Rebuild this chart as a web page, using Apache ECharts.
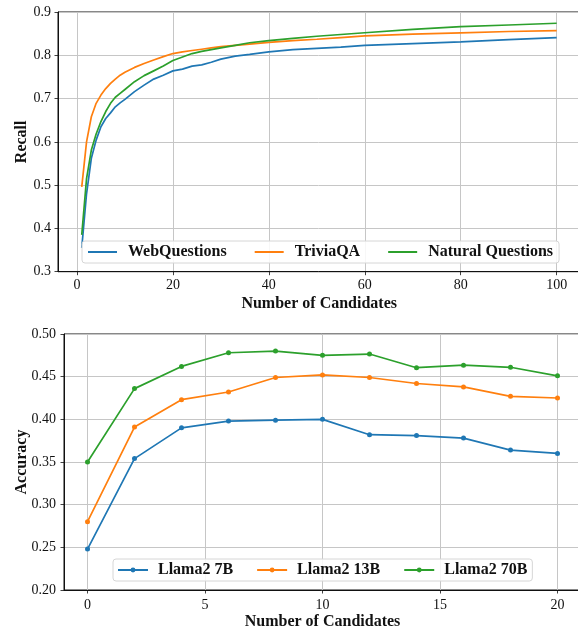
<!DOCTYPE html>
<html>
<head>
<meta charset="utf-8">
<script src="https://cdn.jsdelivr.net/npm/echarts@6/dist/echarts.min.js"></script>
<style>
html,body{margin:0;padding:0;background:#fff;}
#c{width:578px;height:628px;}
</style>
</head>
<body>
<div id="c"></div>
<script>
// ---- Top panel: recall vs number of candidates ----
const recallCandidates = [1,2,3,4,5,6,7,8,9,10,12,14,16,18,20,22,24,26,28,30,33,36,40,45,50,55,60,70,80,90,100];
const webQuestions = [0.355,0.480,0.562,0.604,0.635,0.654,0.667,0.681,0.690,0.698,0.716,0.731,0.745,0.754,0.764,0.768,0.775,0.778,0.784,0.791,0.798,0.802,0.808,0.813,0.816,0.819,0.823,0.827,0.831,0.836,0.841];
const triviaQA = [0.496,0.600,0.658,0.689,0.708,0.723,0.735,0.745,0.754,0.761,0.772,0.781,0.789,0.797,0.804,0.808,0.811,0.814,0.817,0.820,0.823,0.826,0.830,0.834,0.837,0.841,0.845,0.849,0.852,0.855,0.857];
const naturalQuestions = [0.385,0.515,0.581,0.618,0.647,0.670,0.689,0.703,0.712,0.721,0.739,0.753,0.764,0.775,0.788,0.796,0.804,0.809,0.813,0.817,0.823,0.829,0.834,0.839,0.844,0.848,0.852,0.860,0.866,0.870,0.874];
const recallXTicks = [0,20,40,60,80,100];

// ---- Bottom panel: accuracy vs number of candidates ----
const accCandidates = [0,2,4,6,8,10,12,14,16,18,20];
const llama7B  = [0.248,0.354,0.390,0.398,0.399,0.400,0.382,0.381,0.378,0.364,0.360];
const llama13B = [0.280,0.391,0.423,0.432,0.449,0.452,0.449,0.442,0.438,0.427,0.425];
const llama70B = [0.350,0.436,0.462,0.478,0.480,0.475,0.4765,0.4605,0.4635,0.461,0.451];
const accXTicks = [0,5,10,15,20];

const FONT = '"Liberation Serif", "DejaVu Serif", serif';
const C1 = '#1f77b4', C2 = '#ff7f0e', C3 = '#2ca02c';
const zip = (xs, ys) => xs.map((x, i) => [x, ys[i]]);

const gridLine = {show: true, lineStyle: {color: '#c6c6c6', width: 1}};
const axisLine = {show: true, onZero: false, lineStyle: {color: '#111', width: 1}};
const tick = {show: true, inside: false, length: 3.5, lineStyle: {color: '#111', width: 0.8}};
const tickLabel = {color: '#111', fontFamily: FONT, fontSize: 14};
const nameStyle = {color: '#111', fontFamily: FONT, fontSize: 16, fontWeight: 'bold'};
const legendBox = {backgroundColor: 'rgba(255,255,255,0.85)', borderColor: '#d6d6d6', borderWidth: 1, borderRadius: 3};

const chart = echarts.init(document.getElementById('c'), null, {renderer: 'canvas'});
chart.setOption({
  backgroundColor: '#fff',
  animation: false,
  grid: [
    {left: 58, top: 12, width: 522.4, height: 259.7, show: true, borderColor: '#111', borderWidth: 1,
     backgroundColor: 'transparent', outerBoundsMode: 'none', containLabel: false},
    {left: 64, top: 334, width: 517, height: 256, show: true, borderColor: '#111', borderWidth: 1,
     backgroundColor: 'transparent', outerBoundsMode: 'none', containLabel: false}
  ],
  xAxis: [
    {gridIndex: 0, type: 'value', min: -3.95, max: 104.95,
     axisLine: axisLine, splitLine: gridLine,
     axisTick: Object.assign({customValues: recallXTicks}, tick),
     axisLabel: Object.assign({customValues: recallXTicks, margin: 7}, tickLabel),
     name: 'Number of Candidates', nameLocation: 'middle', nameGap: 24, nameMoveOverlap: false, nameTextStyle: nameStyle},
    {gridIndex: 1, type: 'value', min: -1, max: 21,
     axisLine: axisLine, splitLine: gridLine,
     axisTick: Object.assign({customValues: accXTicks}, tick),
     axisLabel: Object.assign({customValues: accXTicks, margin: 8}, tickLabel),
     name: 'Number of Candidates', nameLocation: 'middle', nameGap: 24, nameMoveOverlap: false, nameTextStyle: nameStyle}
  ],
  yAxis: [
    {gridIndex: 0, type: 'value', min: 0.3, max: 0.9, interval: 0.1,
     axisLine: axisLine, splitLine: gridLine, axisTick: tick,
     axisLabel: Object.assign({margin: 7, formatter: v => v.toFixed(1)}, tickLabel),
     name: 'Recall', nameLocation: 'middle', nameGap: 28, nameMoveOverlap: false, nameTextStyle: nameStyle},
    {gridIndex: 1, type: 'value', min: 0.2, max: 0.5, interval: 0.05,
     axisLine: axisLine, splitLine: gridLine, axisTick: tick,
     axisLabel: Object.assign({margin: 8, formatter: v => v.toFixed(2)}, tickLabel),
     name: 'Accuracy', nameLocation: 'middle', nameGap: 34, nameMoveOverlap: false, nameTextStyle: nameStyle}
  ],
  legend: [
    Object.assign({left: 82, top: 241, orient: 'horizontal', icon: 'rect', itemWidth: 29, itemHeight: 2, itemGap: 28,
     padding: [3, 6, 3, 6],
     textStyle: {color: '#111', fontFamily: FONT, fontSize: 16, fontWeight: 'bold', padding: [0, 0, 0, 6]},
     data: ['WebQuestions', 'TriviaQA', 'Natural Questions']}, legendBox),
    Object.assign({left: 113, top: 559, orient: 'horizontal', itemWidth: 30, itemHeight: 6, itemGap: 23,
     padding: [3, 5, 3, 4],
     textStyle: {color: '#111', fontFamily: FONT, fontSize: 16, fontWeight: 'bold', padding: [0, 0, 0, 5]},
     data: ['Llama2 7B', 'Llama2 13B', 'Llama2 70B']}, legendBox)
  ],
  series: [
    {name: 'WebQuestions', type: 'line', xAxisIndex: 0, yAxisIndex: 0, symbol: 'none', color: C1,
     lineStyle: {width: 1.7}, data: zip(recallCandidates, webQuestions)},
    {name: 'TriviaQA', type: 'line', xAxisIndex: 0, yAxisIndex: 0, symbol: 'none', color: C2,
     lineStyle: {width: 1.7}, data: zip(recallCandidates, triviaQA)},
    {name: 'Natural Questions', type: 'line', xAxisIndex: 0, yAxisIndex: 0, symbol: 'none', color: C3,
     lineStyle: {width: 1.7}, data: zip(recallCandidates, naturalQuestions)},
    {name: 'Llama2 7B', type: 'line', xAxisIndex: 1, yAxisIndex: 1, symbol: 'circle', symbolSize: 5, color: C1,
     lineStyle: {width: 1.7}, data: zip(accCandidates, llama7B)},
    {name: 'Llama2 13B', type: 'line', xAxisIndex: 1, yAxisIndex: 1, symbol: 'circle', symbolSize: 5, color: C2,
     lineStyle: {width: 1.7}, data: zip(accCandidates, llama13B)},
    {name: 'Llama2 70B', type: 'line', xAxisIndex: 1, yAxisIndex: 1, symbol: 'circle', symbolSize: 5, color: C3,
     lineStyle: {width: 1.7}, data: zip(accCandidates, llama70B)}
  ]
});
</script>
</body>
</html>
